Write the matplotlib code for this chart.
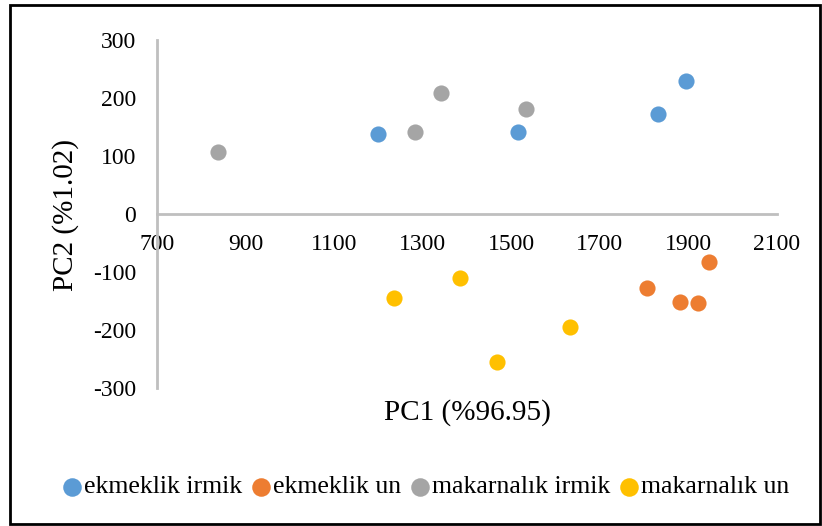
import matplotlib
matplotlib.use('Agg')
import matplotlib.pyplot as plt
from matplotlib.patches import Rectangle

plt.rcParams['font.family'] = ['Liberation Serif', 'DejaVu Serif']
plt.rcParams['axes.unicode_minus'] = False

# PCA scores
ekmeklik_irmik_x = [1199, 1515, 1831, 1894]
ekmeklik_irmik_y = [138, 141, 172, 229]
ekmeklik_un_x = [1806, 1881, 1922, 1946]
ekmeklik_un_y = [-128, -152, -153, -83]
makarnalik_irmik_x = [838, 1283, 1341, 1533]
makarnalik_irmik_y = [107, 141, 209, 181]
makarnalik_un_x = [1235, 1384, 1468, 1633]
makarnalik_un_y = [-145, -110, -255, -195]

series_names = ['ekmeklik irmik', 'ekmeklik un', 'makarnalık irmik', 'makarnalık un']
colors = ['#5B9BD5', '#ED7D31', '#A5A5A5', '#FFC000']
x_ticks = [700, 900, 1100, 1300, 1500, 1700, 1900, 2100]
y_ticks = [-300, -200, -100, 0, 100, 200, 300]

fig = plt.figure(figsize=(8.22, 5.26), dpi=100)
ax = fig.add_axes([0.191, 0.262, 0.754, 0.662])

data = [(ekmeklik_irmik_x, ekmeklik_irmik_y),
        (ekmeklik_un_x, ekmeklik_un_y),
        (makarnalik_irmik_x, makarnalik_irmik_y),
        (makarnalik_un_x, makarnalik_un_y)]
for (xs, ys), name, c in zip(data, series_names, colors):
    ax.scatter(xs, ys, s=135, color=c, linewidths=0, label=name, zorder=3)

ax.set_xlim(700, 2100)
ax.set_ylim(-300, 300)
ax.set_xticks(x_ticks)
ax.set_yticks(y_ticks)

ax.spines['top'].set_visible(False)
ax.spines['right'].set_visible(False)
ax.spines['bottom'].set_position(('data', 0))
for s in ['left', 'bottom']:
    ax.spines[s].set_color('#BFBFBF')
    ax.spines[s].set_linewidth(2)

ax.tick_params(axis='x', length=0, pad=14, labelsize=17)
ax.tick_params(axis='y', length=0, pad=15, labelsize=17)

fig.text(66 / 822, 1 - 215 / 526, 'PC2 (%1.02)', rotation=90,
         ha='center', va='center', fontsize=21)
fig.text(467 / 822, 1 - 413 / 526, 'PC1 (%96.95)',
         ha='center', va='center', fontsize=21)

fig.legend(loc='center', bbox_to_anchor=(426 / 822, 1 - 487 / 526), ncol=4,
           frameon=False, fontsize=18.5, handlelength=0.75, handletextpad=0.1,
           columnspacing=0.35, markerscale=1.15, borderaxespad=0, borderpad=0)

fig.patches.append(Rectangle((10 / 822, 2 / 526), 810 / 822, 519 / 526,
                             transform=fig.transFigure, fill=False,
                             edgecolor='black', linewidth=2))

fig.savefig('out.png', dpi=100)
